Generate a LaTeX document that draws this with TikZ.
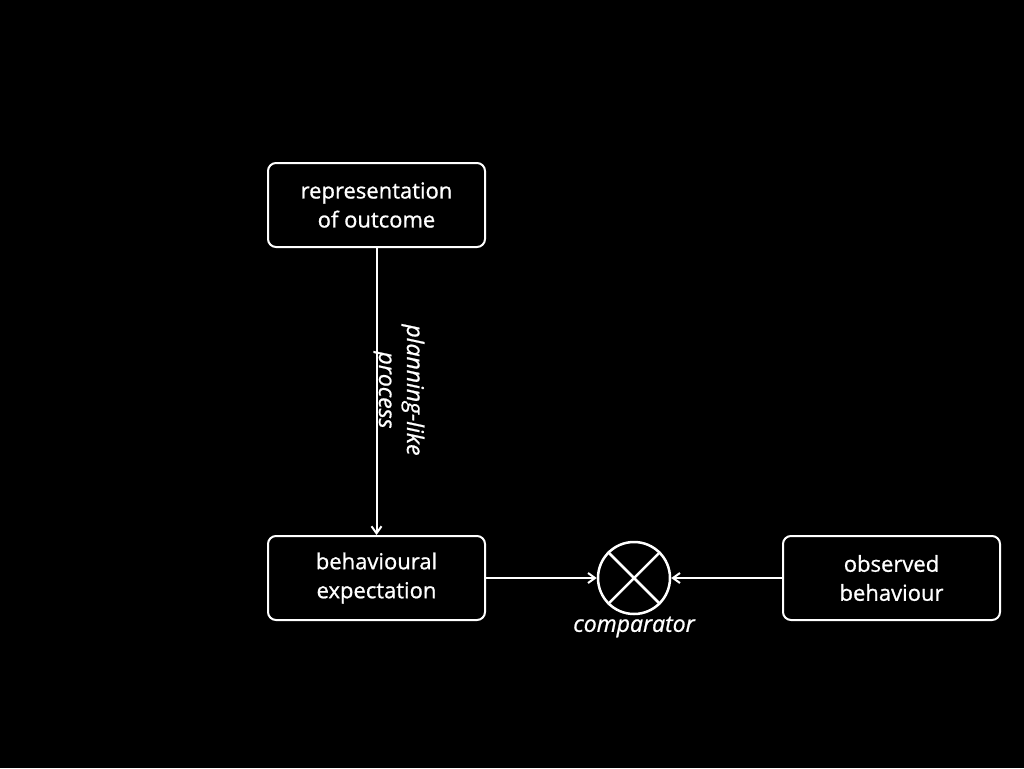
\documentclass[tikz,border=0pt]{standalone}
\usepackage{fontspec}
\setmainfont{Open Sans}[FakeBold=0.9]
\usetikzlibrary{arrows.meta}
\begin{document}
\begin{tikzpicture}[x=1pt,y=-1pt,
  box/.style={draw=white,line width=2pt,rounded corners=8pt,minimum width=217pt,minimum height=84pt,align=center,text=white,font=\fontsize{22}{29}\selectfont,inner sep=0pt},
  conn/.style={draw=white,line width=2pt,-{Straight Barb[length=7pt,width=10pt,line width=2pt]}},
  lbl/.style={text=white,font=\fontsize{23}{28}\selectfont\itshape,align=center}]
\fill[black] (0,0) rectangle (1024,768);
\useasboundingbox (0,0) rectangle (1024,768);
\node[box] (rep) at (376.5,205) {representation\\of outcome};
\node[box] (exp) at (376.5,578) {behavioural\\expectation};
\node[box] (obs) at (891.5,578) {observed\\behaviour};
\node[draw=white,line width=2.5pt,circle,minimum size=72pt,inner sep=0pt] (cmp) at (634,578) {};
\draw[white,line width=2.5pt] (cmp.45) -- (cmp.225) (cmp.135) -- (cmp.315);
\node[lbl] (cmplbl) at (634,627) {comparator};
\draw[conn] (rep.south) -- (exp.north);
\draw[conn] (exp.east) -- (cmp.west);
\draw[conn] (obs.west) -- (cmp.east);
\node[lbl,rotate=-90] (plan) at (399,390) {planning-like\\process};
\end{tikzpicture}
\end{document}
